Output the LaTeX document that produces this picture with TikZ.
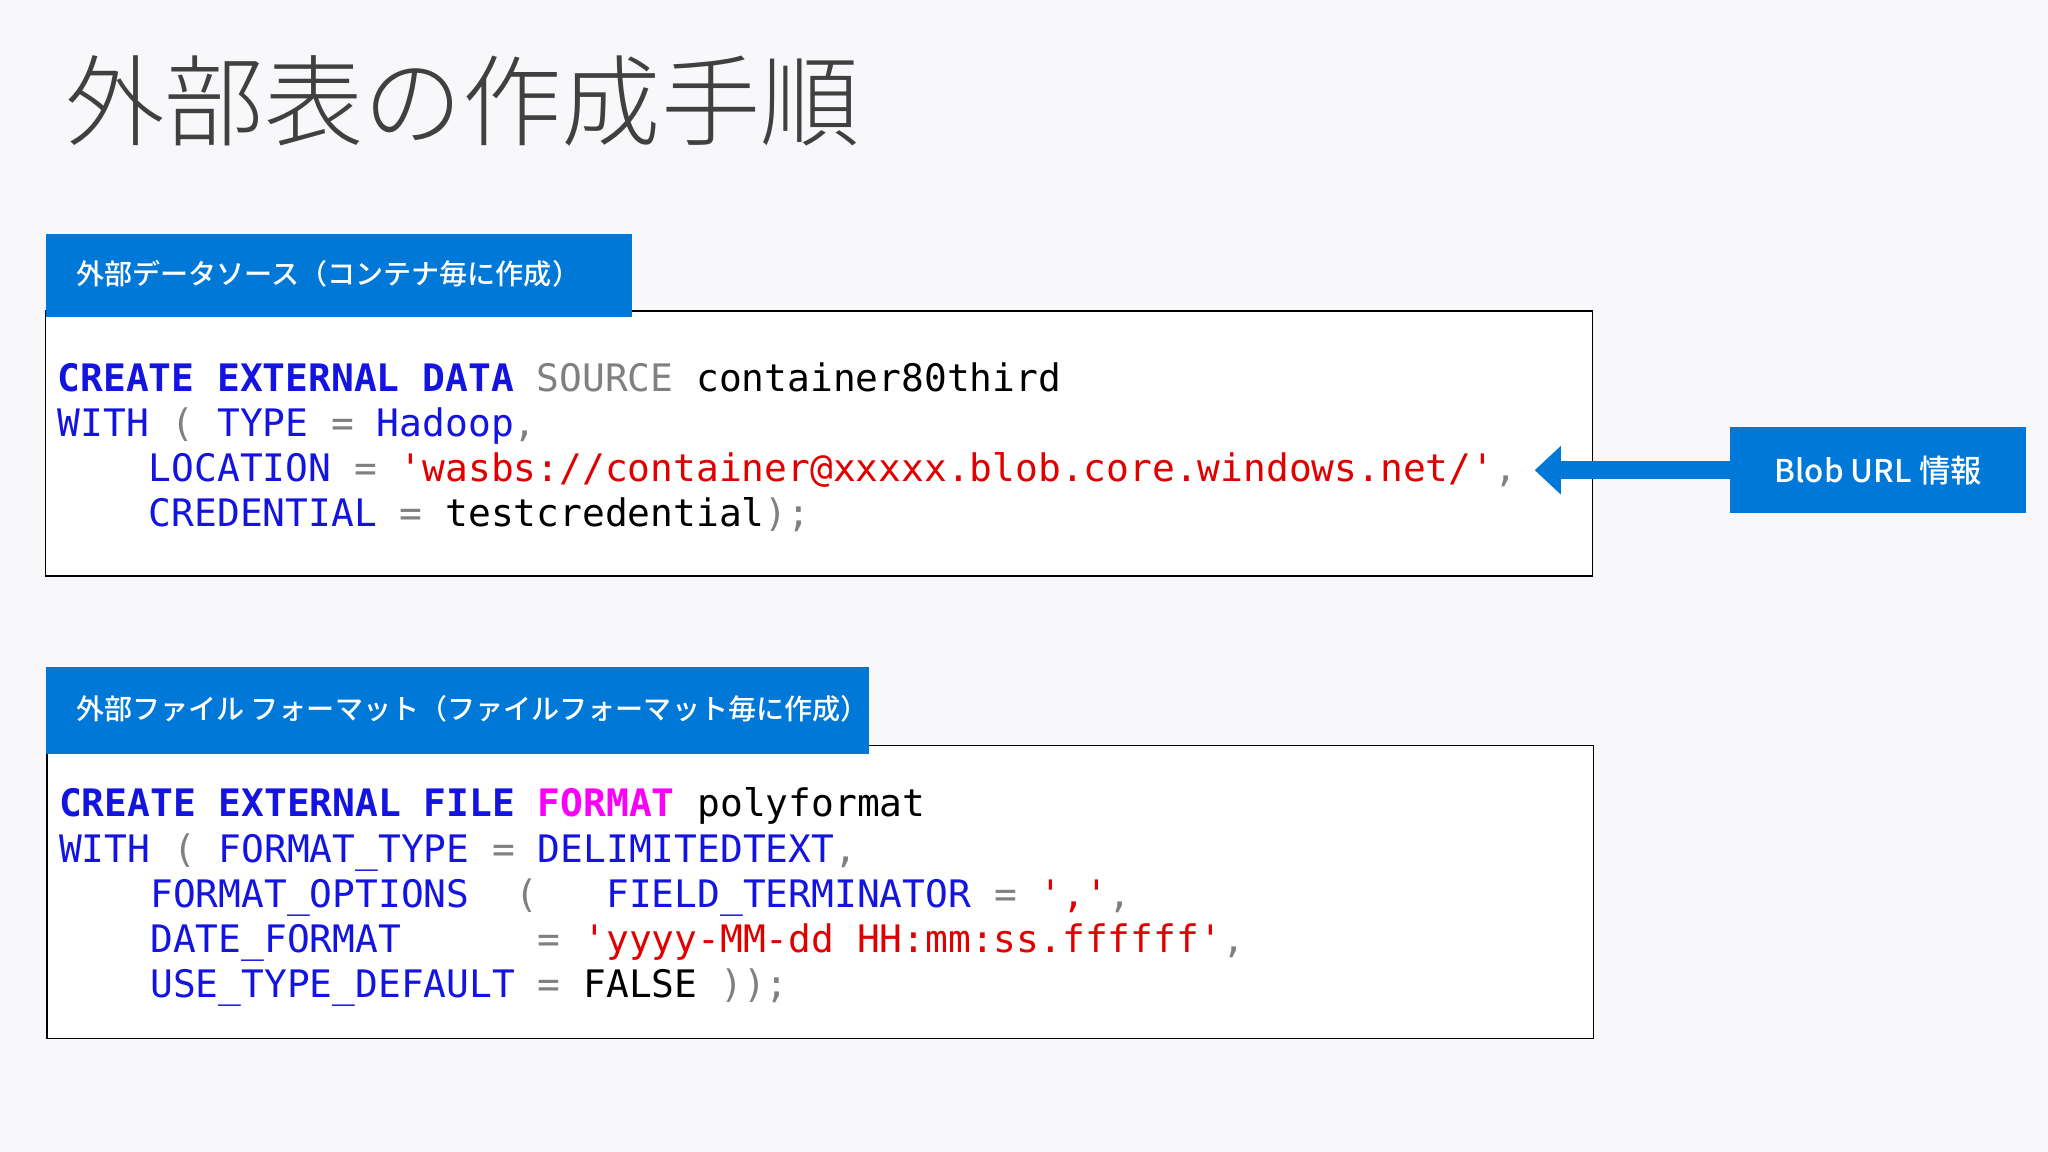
\documentclass[tikz,border=0pt]{standalone}
\usepackage{fontspec}
\setmonofont{DejaVu Sans Mono}
\newfontfamily\cjk{Noto Sans CJK JP Medium}
\newfontfamily\cjkl{Noto Sans CJK JP Light}
\usetikzlibrary{arrows.meta}
\definecolor{msblue}{RGB}{0,120,215}
\definecolor{kw}{RGB}{20,20,225}
\definecolor{str}{RGB}{225,0,0}
\definecolor{mag}{RGB}{250,0,250}
\definecolor{gr}{RGB}{128,128,128}
\definecolor{bg}{RGB}{248,248,250}
\definecolor{tt}{RGB}{64,64,64}
\newcommand{\K}[1]{\textcolor{kw}{#1}}
\newcommand{\KB}[1]{\textcolor{kw}{\bfseries #1}}
\newcommand{\G}[1]{\textcolor{gr}{#1}}
\newcommand{\R}[1]{\textcolor{str}{#1}}
\begin{document}
\begin{tikzpicture}[x=1pt,y=-1pt,
  hdr/.style={fill=msblue,draw=none},
  hdrtxt/.style={anchor=west,text=white,font=\cjk\fontsize{21.5}{21.5}\selectfont,inner sep=0},
  codebox/.style={draw=black,line width=1pt,fill=white},
  code/.style={anchor=base west,inner sep=0,font=\ttfamily\fontsize{29}{29}\selectfont}]
\fill[bg] (0,0) rectangle (1568,882);
\useasboundingbox (0,0) rectangle (1568,882);
\node[anchor=base west,inner sep=0,text=tt,font=\cjkl\fontsize{76}{76}\selectfont] (title) at (50,106) {外部表の作成手順};
% box 1
\draw[codebox] (35,238) rectangle (1219,441);
\fill[hdr] (35,179) rectangle (484,243);
\node[hdrtxt] (h1) at (58,210) {外部データソース（コンテナ毎に作成）};
\node[code] (a1) at (44,300) {\KB{CREATE}\ \KB{EXTERNAL}\ \KB{DATA}\ \G{SOURCE}\ container80third};
\node[code] (a2) at (44,334) {\K{WITH}\ \G{(}\ \K{TYPE}\ \G{=}\ \K{Hadoop}\G{,}};
\node[code] (a3) at (44,369) {\ \ \ \ \K{LOCATION}\ \G{=}\ \R{'wasbs://container@xxxxx.blob.core.windows.net/'}\G{,}};
\node[code] (a4) at (44,403) {\ \ \ \ \K{CREDENTIAL}\ \G{=}\ testcredential\G{);}};
% blob
\node[fill=msblue,text=white,minimum width=227,minimum height=66,inner sep=0,font=\cjk\fontsize{24}{24}\selectfont] (blob) at (1438,360) {Blob URL 情報};
\coordinate (tip) at (1175,360);
\draw[msblue,line width=14pt,-{Triangle[length=20pt,width=36pt]}] (blob.west) -- (tip);
% box 2
\draw[codebox] (36,571) rectangle (1220,795);
\fill[hdr] (35,511) rectangle (665,577);
\node[hdrtxt] (h2) at (58,543) {外部ファイル フォーマット（ファイルフォーマット毎に作成）};
\node[code] (b1) at (45,625) {\KB{CREATE}\ \KB{EXTERNAL}\ \KB{FILE}\ \textcolor{mag}{\bfseries FORMAT}\ polyformat};
\node[code] (b2) at (45,660) {\K{WITH}\ \G{(}\ \K{FORMAT\_TYPE}\ \G{=}\ \K{DELIMITEDTEXT}\G{,}};
\node[code] (b3) at (45,695) {\ \ \ \ \K{FORMAT\_OPTIONS}\ \ \G{(}\ \ \ \K{FIELD\_TERMINATOR}\ \G{=}\ \R{','}\G{,}};
\node[code] (b4) at (45,729) {\ \ \ \ \K{DATE\_FORMAT}\ \ \ \ \ \ \G{=}\ \R{'yyyy-MM-dd HH:mm:ss.ffffff'}\G{,}};
\node[code] (b5) at (45,764) {\ \ \ \ \K{USE\_TYPE\_DEFAULT}\ \G{=}\ FALSE\ \G{));}};
\end{tikzpicture}
\end{document}
